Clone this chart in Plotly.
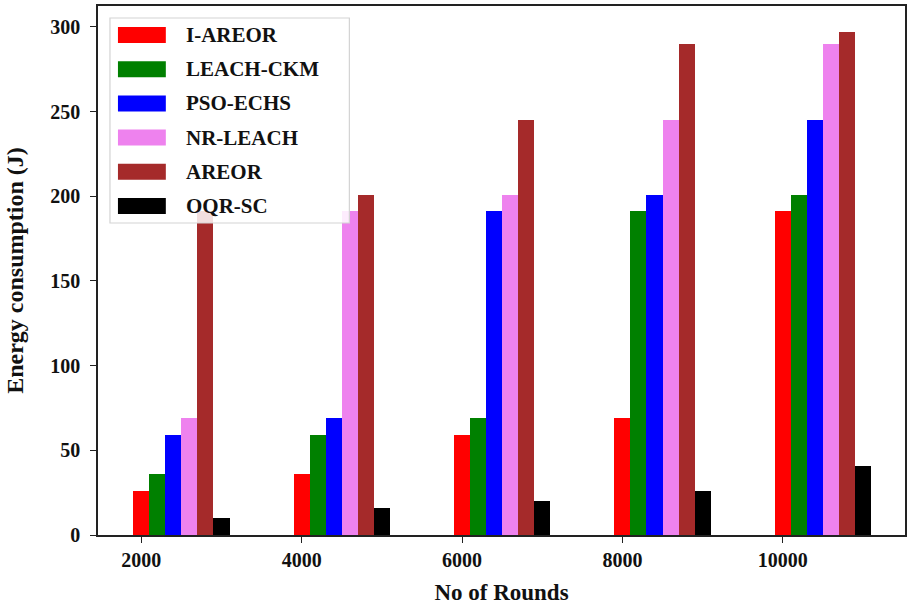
import plotly.graph_objects as go

# Energy consumption (J) per protocol at each number of rounds
rounds = ["2000", "4000", "6000", "8000", "10000"]
protocols = ["I-AREOR", "LEACH-CKM", "PSO-ECHS", "NR-LEACH", "AREOR", "OQR-SC"]
colors = ["#ff0000", "#008000", "#0000ff", "#ee82ee", "#a52a2a", "#000000"]

i_areor = [26, 36, 59, 69, 191]
leach_ckm = [36, 59, 69, 191, 201]
pso_echs = [59, 69, 191, 201, 245]
nr_leach = [69, 191, 201, 245, 290]
areor = [191, 201, 245, 290, 297]
oqr_sc = [10, 16, 20, 26, 41]

series = [i_areor, leach_ckm, pso_echs, nr_leach, areor, oqr_sc]

W, H = 910, 608
L, R, T, B = 98, 3, 6, 73
plot_w = W - L - R
plot_h = H - T - B

FONT = "Liberation Serif"
bar_w = 0.1
idx = list(range(len(rounds)))

fig = go.Figure()
for k, (name, vals, col) in enumerate(zip(protocols, series, colors)):
    fig.add_trace(go.Bar(
        x=idx, y=vals, name=name,
        width=bar_w, offset=k * bar_w - bar_w / 2,
        marker=dict(color=col, line=dict(width=0)),
        showlegend=False,
    ))


def px_x(px):
    return (px - L) / plot_w


def px_y(py):
    return (H - B - py) / plot_h


# legend drawn as a framed box with colour swatches
shapes = []
annotations = []
shapes.append(dict(type="rect", xref="paper", yref="paper",
                   x0=px_x(110), x1=px_x(350), y0=px_y(223), y1=px_y(18),
                   line=dict(color="#d4d4d4", width=1.2), fillcolor="rgba(255,255,255,0.85)",
                   layer="above"))
row_y0, row_dy = 35, 34.2
for k, (name, col) in enumerate(zip(protocols, colors)):
    cy = row_y0 + k * row_dy
    shapes.append(dict(type="rect", xref="paper", yref="paper",
                       x0=px_x(118), x1=px_x(166), y0=px_y(cy + 8), y1=px_y(cy - 8),
                       line=dict(width=0), fillcolor=col, layer="above"))
    annotations.append(dict(xref="paper", yref="paper", x=px_x(184), y=px_y(cy),
                            xanchor="left", yanchor="middle", showarrow=False,
                            text=name, font=dict(family=FONT, size=21, color="#111", weight="bold")))

axis_common = dict(
    showline=True, linecolor="#222", linewidth=1.5, mirror=True,
    ticks="outside", ticklen=6, tickwidth=1.3, tickcolor="#222",
    showgrid=False, zeroline=False,
    tickfont=dict(family=FONT, size=20, color="#111", weight="bold"),
)

fig.update_layout(
    width=W, height=H,
    margin=dict(l=L, r=R, t=T, b=B),
    paper_bgcolor="white", plot_bgcolor="white",
    barmode="overlay", bargap=0,
    shapes=shapes, annotations=annotations,
    xaxis=dict(
        **axis_common,
        range=[-0.27, 4.762],
        tickmode="array", tickvals=idx, ticktext=rounds,
        title=dict(text="No of Rounds", standoff=14,
                   font=dict(family=FONT, size=23, color="#111", weight="bold")),
    ),
    yaxis=dict(
        **axis_common,
        range=[0, 312.3],
        tickmode="array", tickvals=[0, 50, 100, 150, 200, 250, 300],
        ticklabelstandoff=6,
        title=dict(text="Energy consumption (J)", standoff=20,
                   font=dict(family=FONT, size=24, color="#111", weight="bold")),
    ),
)

fig.write_html("out.html")
